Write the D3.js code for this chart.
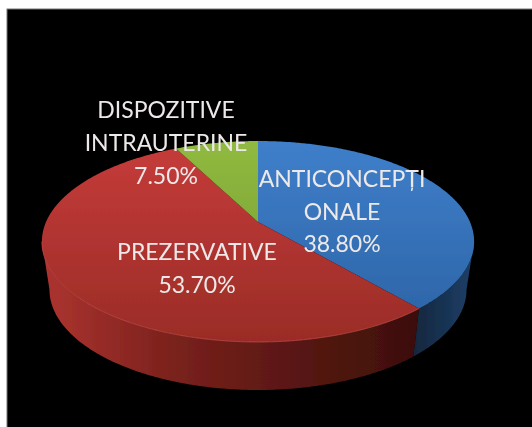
<!DOCTYPE html>
<html>
<head>
<meta charset="utf-8">
<script src="https://cdn.jsdelivr.net/npm/d3@7"></script>
<style>
html, body { margin: 0; padding: 0; background: #fff; }
svg { display: block; }
</style>
</head>
<body>
<div id="chart"></div>
<script>
const categories = ["ANTICONCEPȚIONALE", "PREZERVATIVE", "DISPOZITIVE INTRAUTERINE"];
const values = [38.8, 53.7, 7.5];
const labelLines = [["ANTICONCEPȚI", "ONALE"], ["PREZERVATIVE"], ["DISPOZITIVE", "INTRAUTERINE"]];
const valueLabels = ["38.80%", "53.70%", "7.50%"];

const w = 532, h = 427;

const svg = d3.select("#chart").append("svg")
	.attr("width", w)
	.attr("height", h);

const defs = svg.append("defs");

function vGradient(id, top, bottom){
	const g = defs.append("linearGradient").attr("id", id)
		.attr("gradientUnits", "userSpaceOnUse")
		.attr("x1", 0).attr("x2", 0).attr("y1", 141).attr("y2", 342);
	g.append("stop").attr("offset", 0).attr("stop-color", top);
	g.append("stop").attr("offset", 1).attr("stop-color", bottom);
}
vGradient("face0", "#3f7fca", "#2b62a4");
vGradient("face1", "#c63c3a", "#9a2c27");
vGradient("face2", "#90ba40", "#72962f");

function hGradient(id, x1, x2, stops){
	const g = defs.append("linearGradient").attr("id", id)
		.attr("gradientUnits", "userSpaceOnUse")
		.attr("x1", x1).attr("x2", x2).attr("y1", 0).attr("y2", 0);
	stops.forEach(s => g.append("stop").attr("offset", s[0]).attr("stop-color", s[1]));
}
hGradient("side0", 416, 474, [[0, "#14283f"], [1, "#1d3f68"]]);
hGradient("side1", 42, 419, [[0, "#ad3430"], [0.35, "#7a211c"], [0.7, "#561612"], [1, "#3c0f0c"]]);

defs.append("filter").attr("id", "soft")
	.append("feGaussianBlur").attr("stdDeviation", 0.55);

// runs past the right and bottom edges so only the top and left lines show
svg.append("rect")
	.attr("x", 7).attr("y", 9)
	.attr("width", w).attr("height", h)
	.attr("fill", "#000")
	.attr("stroke", "#777")
	.attr("stroke-width", 1);

// perspective view of the disc: centre of the pie sits above the centre of the ellipse
const cx = 258, cy = 222, a = 212, b = 96.7, k = -0.194, depth = 48, bottomScale = 0.965;

function project(t, lower){
	const u = Math.sin(t), v = -Math.cos(t), d = 1 + k * v;
	return lower
		? [cx + bottomScale * a * u / d, cy + depth + b * v / d]
		: [cx + a * u / d, cy + b * v / d];
}

function arcPoints(t0, t1, lower){
	const n = Math.max(2, Math.ceil(Math.abs(t1 - t0) / 0.01));
	return d3.range(n + 1).map(i => project(t0 + (t1 - t0) * i / n, lower));
}

const pie = d3.pie().sort(null).value(d => d);
const slices = pie(values);
const line = d3.line();

// side wall only shows between the two widest points of the ellipse
const wallStart = Math.acos(k);
const wallEnd = 2 * Math.PI - wallStart;

const plot = svg.append("g").attr("filter", "url(#soft)");

slices.forEach((s, i) => {
	const t0 = Math.max(s.startAngle, wallStart);
	const t1 = Math.min(s.endAngle, wallEnd);
	if (t1 <= t0) return;
	const pts = arcPoints(t0, t1, false).concat(arcPoints(t1, t0, true));
	plot.append("path")
		.attr("d", line(pts) + "Z")
		.attr("fill", `url(#side${i})`);
});

slices.forEach((s, i) => {
	const pts = [[cx, cy]].concat(arcPoints(s.startAngle, s.endAngle, false));
	plot.append("path")
		.attr("d", line(pts) + "Z")
		.attr("fill", `url(#face${i})`);
});

// lighter rim on the front of the red slice
plot.append("path")
	.attr("d", line(arcPoints(slices[1].startAngle, wallEnd, false)))
	.attr("fill", "none")
	.attr("stroke", "#c9504c")
	.attr("stroke-opacity", 0.7)
	.attr("stroke-width", 1);

const labelPos = [[342, 187], [197, 260], [166, 118]];
const lineStep = [32.5, 33, 33];

const labels = svg.append("g")
	.attr("filter", "url(#soft)")
	.attr("text-anchor", "middle")
	.style("font-family", "Lato, sans-serif")
	.style("font-size", "23px")
	.style("fill", "#eee9e9");

slices.forEach((s, i) => {
	const lines = labelLines[i].concat(valueLabels[i]);
	labels.selectAll(null)
		.data(lines)
		.enter()
		.append("text")
		.attr("x", labelPos[i][0])
		.attr("y", (d, j) => labelPos[i][1] + j * lineStep[i])
		.text(d => d);
});
</script>
</body>
</html>
